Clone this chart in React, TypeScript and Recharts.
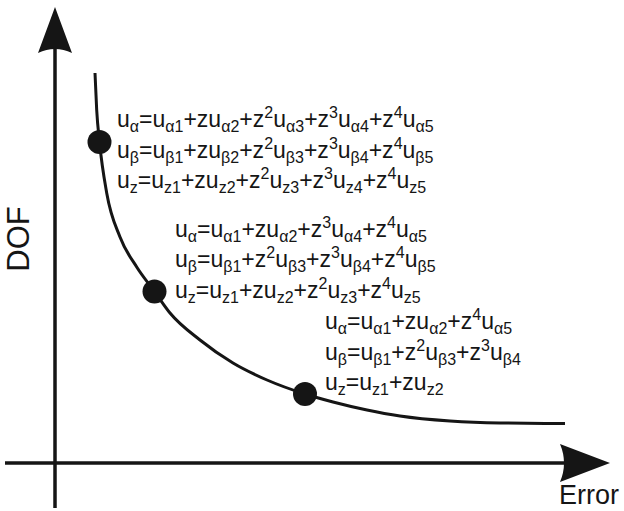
import React from 'react';
import {
  ComposedChart,
  Line,
  Scatter,
  XAxis,
  YAxis,
  ReferenceLine,
} from 'recharts';

// curve (error vs degrees of freedom)
const curveError = [40, 41.7, 44.5, 51.7, 65, 81.7, 99.5, 115, 145, 178, 212, 250, 278, 312, 345, 395, 445, 510];
const curveDof = [390, 353, 321, 270, 226, 196, 171.5, 150, 123, 100, 83, 69, 61, 53, 47, 42, 40, 39.5];

// the three marked points
const pointError = [44.5, 99.5, 250];
const pointDof = [321, 171.5, 69];

// formulas for each point ( _ = subscript, ^ = superscript )
const formulas1 = [
  'u_α=u_α1+zu_α2+z^2u_α3+z^3u_α4+z^4u_α5',
  'u_β=u_β1+zu_β2+z^2u_β3+z^3u_β4+z^4u_β5',
  'u_z=u_z1+zu_z2+z^2u_z3+z^3u_z4+z^4u_z5',
];
const formulas2 = [
  'u_α=u_α1+zu_α2+z^3u_α4+z^4u_α5',
  'u_β=u_β1+z^2u_β3+z^3u_β4+z^4u_β5',
  'u_z=u_z1+zu_z2+z^2u_z3+z^4u_z5',
];
const formulas3 = [
  'u_α=u_α1+zu_α2+z^4u_α5',
  'u_β=u_β1+z^2u_β3+z^3u_β4',
  'u_z=u_z1+zu_z2',
];

const axisLabels = { x: 'Error', y: 'DOF' };

// layout (pixels)
const blockOffsets = [
  { dx: 17.5, dy: -15 },
  { dx: 20.5, dy: -55 },
  { dx: 20, dy: -65 },
];
const LINE_H = 30.7;
const INK = '#151515';
const FONT = '"Liberation Sans", Arial, sans-serif';
const MAIN_SIZE = 23;
const SMALL_SIZE = 16;

const curveData = curveError.map((x, i) => ({ x, y: curveDof[i] }));
const allFormulas = [formulas1, formulas2, formulas3];
const pointData = pointError.map((x, i) => ({ x, y: pointDof[i], lines: allFormulas[i], idx: i }));
const arrowData = [
  { x: 0, y: 456, dir: 'up' },
  { x: 555, y: 0, dir: 'right' },
];

type Tok = { t: string; k: 'n' | 'sub' | 'sup' };

function parseFormula(s: string): Tok[] {
  const out: Tok[] = [];
  let buf = '';
  let i = 0;
  while (i < s.length) {
    const ch = s[i];
    if (ch === '_') {
      if (buf) out.push({ t: buf, k: 'n' });
      buf = '';
      let j = i + 1;
      while (j < s.length && s[j] !== '+' && s[j] !== '=') j++;
      out.push({ t: s.slice(i + 1, j), k: 'sub' });
      i = j;
    } else if (ch === '^') {
      if (buf) out.push({ t: buf, k: 'n' });
      buf = '';
      out.push({ t: s[i + 1], k: 'sup' });
      i += 2;
    } else {
      buf += ch;
      i++;
    }
  }
  if (buf) out.push({ t: buf, k: 'n' });
  return out;
}

const shiftOf = { n: 0, sub: 5, sup: -9 };

function FormulaLine({ x, y, text }: { x: number; y: number; text: string }) {
  let cur = 0;
  return (
    <text x={x} y={y} fontFamily={FONT} fontSize={MAIN_SIZE} fill={INK}>
      {parseFormula(text).map((tk, i) => {
        const target = shiftOf[tk.k];
        const dy = target - cur;
        cur = target;
        return (
          <tspan key={i} dy={dy} fontSize={tk.k === 'n' ? MAIN_SIZE : SMALL_SIZE}>
            {tk.t}
          </tspan>
        );
      })}
    </text>
  );
}

function PointShape(props: any) {
  const { cx, cy, payload } = props;
  const off = blockOffsets[payload.idx];
  return (
    <g>
      <circle cx={cx} cy={cy} r={12} fill={INK} />
      {payload.lines.map((ln: string, i: number) => (
        <FormulaLine key={i} x={cx + off.dx} y={cy + off.dy + i * LINE_H} text={ln} />
      ))}
    </g>
  );
}

function ArrowShape(props: any) {
  const { cx, cy, payload } = props;
  if (payload.dir === 'up') {
    return (
      <g>
        <path
          d={`M${cx},${cy} L${cx + 17},${cy + 46} Q${cx},${cy + 38} ${cx - 17},${cy + 46} Z`}
          fill={INK}
        />
        <text
          x={28}
          y={0}
          transform={`translate(${cx - 26},267) rotate(-90)`}
          textAnchor="middle"
          fontFamily={FONT}
          fontSize={31}
          fill={INK}
        >
          {axisLabels.y}
        </text>
      </g>
    );
  }
  return (
    <g>
      <path
        d={`M${cx},${cy} L${cx - 50},${cy - 19} Q${cx - 42},${cy} ${cx - 50},${cy + 19} Z`}
        fill={INK}
      />
      <text x={cx + 9} y={504} textAnchor="end" fontFamily={FONT} fontSize={27} fill={INK}>
        {axisLabels.x}
      </text>
    </g>
  );
}

export default function App() {
  return (
    <div style={{ position: 'absolute', left: 0, top: 0, background: '#fff' }}>
      <ComposedChart width={624} height={511} margin={{ top: 0, right: 0, bottom: 0, left: 0 }}>
        <XAxis type="number" dataKey="x" domain={[-55, 569]} allowDataOverflow hide />
        <YAxis type="number" dataKey="y" domain={[-48, 463]} allowDataOverflow hide />
        <ReferenceLine
          segment={[{ x: 0, y: -45 }, { x: 0, y: 420 }]}
          stroke={INK}
          strokeWidth={3.5}
          ifOverflow="visible"
        />
        <ReferenceLine
          segment={[{ x: -50, y: 0 }, { x: 515, y: 0 }]}
          stroke={INK}
          strokeWidth={3.5}
          ifOverflow="visible"
        />
        <Line
          data={curveData}
          dataKey="y"
          type="monotone"
          stroke={INK}
          strokeWidth={3}
          dot={false}
          isAnimationActive={false}
        />
        <Scatter data={arrowData} shape={ArrowShape} isAnimationActive={false} />
        <Scatter data={pointData} shape={PointShape} isAnimationActive={false} />
      </ComposedChart>
    </div>
  );
}
